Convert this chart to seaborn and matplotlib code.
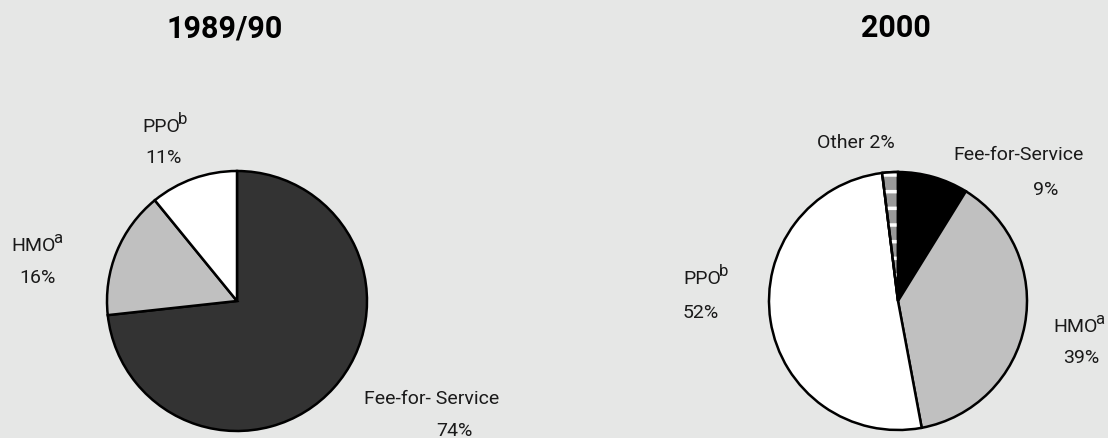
import matplotlib
matplotlib.use("Agg")
import matplotlib.pyplot as plt
from matplotlib import font_manager
from matplotlib.patches import Wedge
import seaborn as sns

# ---- data -------------------------------------------------------------
years = ["1989/90", "2000"]

plans_1990 = ["Fee-for- Service", "HMO", "PPO"]
shares_1990 = [74, 16, 11]

plans_2000 = ["Fee-for-Service", "HMO", "PPO", "Other"]
shares_2000 = [9, 39, 52, 2]

# ---- style ------------------------------------------------------------
BG = "#e6e7e6"
sns.set_theme(style="white", rc={"figure.facecolor": BG, "axes.facecolor": BG})

available = {f.name for f in font_manager.fontManager.ttflist}
label_font = next((f for f in ["Liberation Sans Narrow", "Roboto", "DejaVu Sans"]
                   if f in available))
title_font = next((f for f in ["Roboto", "DejaVu Sans"] if f in available))
plt.rcParams["font.family"] = [label_font, "DejaVu Sans"]
plt.rcParams["hatch.linewidth"] = 2.5

W, H = 1108, 438
fig = plt.figure(figsize=(W / 100, H / 100), dpi=100)
fig.patch.set_facecolor(BG)

LW = 1.8
TXT = "#1a1a1a"
FS = 14
FS_SUP = 12


def pie_axes(cx, cy, r):
    """Axes whose +-1 data square is a circle of radius r px centred at (cx, cy)."""
    ax = fig.add_axes([(cx - r) / W, (H - cy - r) / H, 2 * r / W, 2 * r / H])
    ax.set_facecolor("none")
    return ax


def draw_pie(ax, values, colors):
    wedges, _ = ax.pie(values, colors=colors, startangle=90, counterclock=False,
                       radius=1.0,
                       wedgeprops=dict(edgecolor="black", linewidth=LW))
    for w in wedges:
        w.set_clip_on(False)
    ax.set_xlim(-1, 1)
    ax.set_ylim(-1, 1)
    ax.set_aspect("equal")
    ax.axis("off")
    return wedges


def label(px, py, s, sup=None):
    """Text with its left end at px and baseline at py (pixels from top-left)."""
    t = fig.text(px / W, 1 - py / H, s, ha="left", va="baseline",
                 fontsize=FS, color=TXT)
    if sup:
        renderer = fig.canvas.get_renderer()
        right = t.get_window_extent(renderer).x1
        fig.text((right - 2) / W, 1 - (py - 8) / H, sup, ha="left",
                 va="baseline", fontsize=FS_SUP, color=TXT)
    return t


# ---- 1989/90 ----------------------------------------------------------
ax1 = pie_axes(237, 301, 130)
draw_pie(ax1, shares_1990, ["#333333", "#c0c0c0", "#ffffff"])
label(142, 132, plans_1990[2], sup="b")
label(145, 163, f"{shares_1990[2]}%")
label(11, 251, plans_1990[1], sup="a")
label(19, 283, f"{shares_1990[1]}%")
label(364, 404, plans_1990[0])
label(436, 436, f"{shares_1990[0]}%")

# ---- 2000 -------------------------------------------------------------
ax2 = pie_axes(898, 301, 129)
wedges2 = draw_pie(ax2, shares_2000, ["#000000", "#c0c0c0", "#ffffff", "#9a9a9a"])
other = wedges2[3]
ax2.add_patch(Wedge(other.center, other.r, other.theta1, other.theta2,
                    facecolor="none", edgecolor="white", linewidth=0,
                    hatch="-", clip_on=False, zorder=other.get_zorder() + 0.1))
ax2.add_patch(Wedge(other.center, other.r, other.theta1, other.theta2,
                    facecolor="none", edgecolor="black", linewidth=LW,
                    clip_on=False, zorder=other.get_zorder() + 0.2))
label(817, 148, f"{plans_2000[3]} {shares_2000[3]}%")
label(953, 160, plans_2000[0])
label(1033, 195, f"{shares_2000[0]}%")
label(683, 284, plans_2000[2], sup="b")
label(683, 318, f"{shares_2000[2]}%")
label(1053, 332, plans_2000[1], sup="a")
label(1063, 363, f"{shares_2000[1]}%")

# ---- titles -----------------------------------------------------------
for year, tx in zip(years, [225, 896]):
    fig.text(tx / W, 1 - 37 / H, year, ha="center", va="baseline",
             fontsize=22, fontweight="bold", family=title_font, color="black")

fig.savefig("out.png", dpi=100, facecolor=BG)
